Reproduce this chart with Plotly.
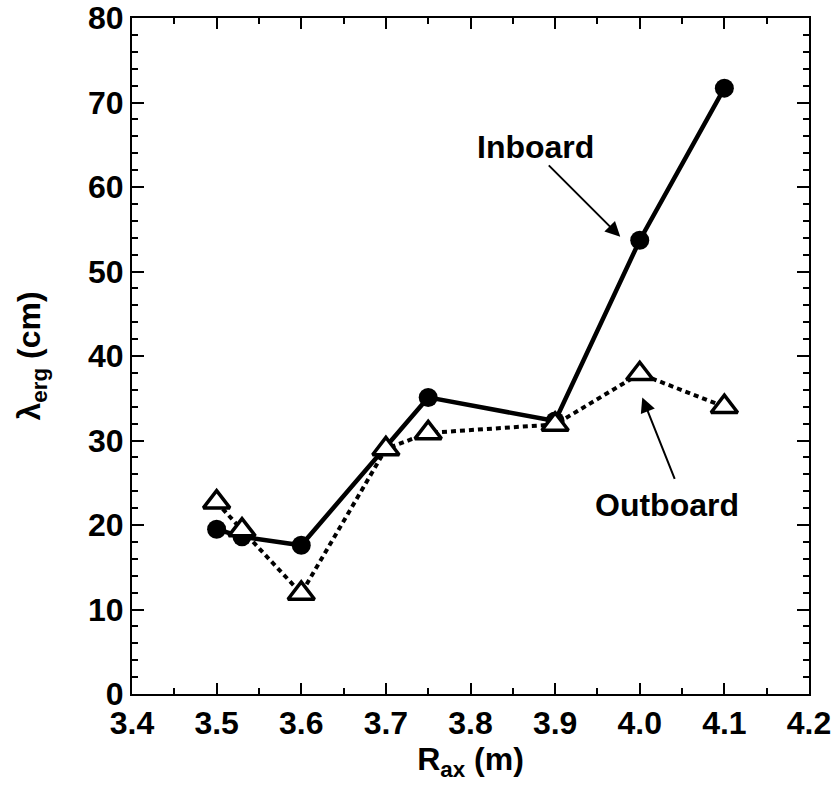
import plotly.graph_objects as go

# Data
inboard_x = [3.5, 3.53, 3.6, 3.75, 3.9, 4.0, 4.1]
inboard_y = [19.5, 18.6, 17.6, 35.1, 32.3, 53.7, 71.7]
outboard_x = [3.5, 3.53, 3.6, 3.7, 3.75, 3.9, 4.0, 4.1]
outboard_y = [22.7, 19.4, 11.9, 29.0, 30.9, 31.9, 37.9, 34.0]

x_ticks = [3.4, 3.5, 3.6, 3.7, 3.8, 3.9, 4.0, 4.1, 4.2]
x_ticklabels = ["3.4", "3.5", "3.6", "3.7", "3.8", "3.9", "4.0", "4.1", "4.2"]
y_ticks = [0, 10, 20, 30, 40, 50, 60, 70, 80]

FONT = "Liberation Sans, Arial, sans-serif"

fig = go.Figure()
fig.add_trace(go.Scatter(
    x=inboard_x, y=inboard_y, mode="lines+markers", name="Inboard",
    line=dict(color="black", width=4.5),
    marker=dict(symbol="circle", size=19, color="black"),
))
fig.add_trace(go.Scatter(
    x=outboard_x, y=outboard_y, mode="lines+markers", name="Outboard",
    line=dict(color="black", width=4, dash="5px,4px"),
    marker=dict(symbol="triangle-up", size=23, color="white",
                line=dict(color="black", width=3.5)),
))

# Annotations
fig.add_annotation(x=3.977, y=54.1, ax=-73, ay=-73, axref="pixel", ayref="pixel",
                   text="", showarrow=True, arrowhead=2, arrowsize=1.5,
                   arrowwidth=2, arrowcolor="black")
fig.add_annotation(x=3.877, y=64.7, text="<b>Inboard</b>", showarrow=False,
                   font=dict(family=FONT, size=32, color="black"))
fig.add_annotation(x=4.003, y=35.1, ax=33, ay=83, axref="pixel", ayref="pixel",
                   text="", showarrow=True, arrowhead=2, arrowsize=1.5,
                   arrowwidth=2, arrowcolor="black")
fig.add_annotation(x=4.032, y=22.4, text="<b>Outboard</b>", showarrow=False,
                   font=dict(family=FONT, size=32, color="black"))

fig.update_layout(
    width=833, height=796,
    margin=dict(l=132, r=24, t=18, b=102, autoexpand=False),
    plot_bgcolor="white", paper_bgcolor="white",
    showlegend=False,
    font=dict(family=FONT, size=32, color="black"),
)
fig.update_xaxes(
    range=[3.4, 4.2], tickvals=x_ticks, ticktext=[f"<b>{t}</b>" for t in x_ticklabels],
    ticks="inside", ticklen=11, tickwidth=2, tickcolor="black",
    minor=dict(dtick=0.05, ticks="inside", ticklen=6, tickwidth=2, tickcolor="black", showgrid=False),
    showline=True, linewidth=2, linecolor="black", mirror="allticks",
    showgrid=False, zeroline=False, automargin=False,
    tickfont=dict(family=FONT, size=32),
    title=dict(text="<b>R<sub>ax</sub> (m)</b>", font=dict(family=FONT, size=32), standoff=2),
)
fig.update_yaxes(
    range=[0, 80], tickvals=y_ticks, ticktext=[f"<b>{t}</b>" for t in y_ticks],
    ticks="inside", ticklen=12, tickwidth=2, tickcolor="black",
    minor=dict(dtick=2, ticks="inside", ticklen=6, tickwidth=2, tickcolor="black", showgrid=False),
    showline=True, linewidth=2, linecolor="black", mirror="allticks",
    showgrid=False, zeroline=False, automargin=False,
    tickfont=dict(family=FONT, size=32),
    title=dict(text="<b>λ<sub>erg</sub> (cm)</b>", font=dict(family=FONT, size=32), standoff=38),
)

fig.write_html("out.html")
